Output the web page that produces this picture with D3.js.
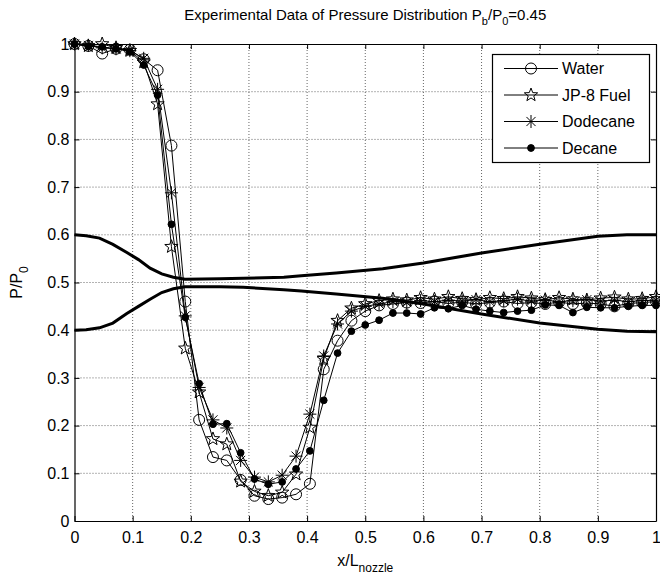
<!DOCTYPE html>
<html lang="en">

<head>
	<meta charset="utf-8">
	<title>Pressure distribution</title>
	<style>
		body {
			margin: 0;
			background: #fff;
		}

		svg {
			display: block;
			font-family: 'Liberation Sans', Arial, sans-serif;
		}

		.grid line {
			stroke: #666;
			stroke-width: 1;
			stroke-dasharray: 1, 2;
		}

		.axis path,
		.axis line {
			stroke: #000;
		}

		.axis text {
			font-size: 16px;
			fill: #000;
		}
	</style>
</head>

<body>
	<svg id="chart" width="660" height="579"></svg>

	<script src="https://d3js.org/d3.v7.min.js"></script>
	<script>
		// x positions of the pressure taps (43 taps along the nozzle)
		var xTaps = [0, 0.0238, 0.0476, 0.0714, 0.0952, 0.119, 0.1429, 0.1667, 0.1905, 0.2143,
			0.2381, 0.2619, 0.2857, 0.3095, 0.3333, 0.3571, 0.381, 0.4048, 0.4286, 0.4524,
			0.4762, 0.5, 0.5238, 0.5476, 0.5714, 0.5952, 0.619, 0.6429, 0.6667, 0.6905,
			0.7143, 0.7381, 0.7619, 0.7857, 0.8095, 0.8333, 0.8571, 0.881, 0.9048, 0.9286,
			0.9524, 0.9762, 1
		];

		var water = [1.000, 0.996, 0.980, 0.990, 0.988, 0.968, 0.945, 0.787, 0.460, 0.212,
			0.134, 0.127, 0.086, 0.053, 0.046, 0.049, 0.056, 0.078, 0.318, 0.378,
			0.420, 0.440, 0.452, 0.455, 0.458, 0.457, 0.460, 0.456, 0.459, 0.455,
			0.458, 0.460, 0.456, 0.458, 0.455, 0.459, 0.455, 0.457, 0.455, 0.450,
			0.456, 0.458, 0.460
		];

		var jp8 = [1.000, 0.996, 1.000, 0.992, 0.986, 0.962, 0.874, 0.575, 0.362, 0.270,
			0.172, 0.161, 0.083, 0.062, 0.053, 0.060, 0.098, 0.196, 0.340, 0.420,
			0.446, 0.455, 0.462, 0.465, 0.463, 0.468, 0.465, 0.470, 0.466, 0.464,
			0.468, 0.466, 0.470, 0.467, 0.464, 0.468, 0.465, 0.463, 0.467, 0.469,
			0.465, 0.466, 0.470
		];

		var dodecane = [1.000, 0.997, 0.992, 0.990, 0.986, 0.970, 0.905, 0.688, 0.430, 0.280,
			0.212, 0.195, 0.127, 0.092, 0.082, 0.096, 0.136, 0.224, 0.346, 0.413,
			0.440, 0.450, 0.455, 0.460, 0.458, 0.462, 0.460, 0.463, 0.461, 0.464,
			0.460, 0.462, 0.465, 0.461, 0.463, 0.460, 0.462, 0.464, 0.461, 0.463,
			0.460, 0.462, 0.463
		];

		var decane = [1.000, 0.995, 0.994, 0.990, 0.984, 0.956, 0.893, 0.622, 0.427, 0.288,
			0.203, 0.204, 0.143, 0.088, 0.077, 0.082, 0.109, 0.147, 0.253, 0.352,
			0.398, 0.411, 0.421, 0.436, 0.436, 0.434, 0.447, 0.445, 0.452, 0.444,
			0.440, 0.437, 0.440, 0.442, 0.453, 0.452, 0.437, 0.448, 0.447, 0.447,
			0.450, 0.452, 0.452
		];

		// thick envelope curves
		var bandX = [0, 0.02, 0.043, 0.066, 0.09, 0.11, 0.13, 0.15, 0.17, 0.19, 0.25, 0.29,
			0.36, 0.39, 0.45, 0.53, 0.6, 0.7, 0.8, 0.9, 0.95, 1.0
		];
		var bandUpper = [0.600, 0.598, 0.593, 0.580, 0.563, 0.548, 0.530, 0.518, 0.511, 0.507, 0.508, 0.509,
			0.511, 0.514, 0.520, 0.529, 0.541, 0.562, 0.580, 0.597, 0.600, 0.600
		];
		var bandLower = [0.400, 0.401, 0.405, 0.415, 0.435, 0.450, 0.465, 0.479, 0.487, 0.491, 0.491, 0.490,
			0.485, 0.482, 0.476, 0.467, 0.455, 0.434, 0.415, 0.402, 0.398, 0.397
		];

		var seriesNames = ["Water", "JP-8 Fuel", "Dodecane", "Decane"];
		var seriesValues = [water, jp8, dodecane, decane];
		var seriesMarkers = ["circle", "star", "asterisk", "dot"];

		var tickValues = [0, 0.1, 0.2, 0.3, 0.4, 0.5, 0.6, 0.7, 0.8, 0.9, 1];

		var svg = d3.select("#chart");
		var plotLeft = 74.5,
			plotRight = 656,
			plotTop = 44,
			plotBottom = 521;

		var x = d3.scaleLinear().domain([0, 1]).range([plotLeft, plotRight]);
		var y = d3.scaleLinear().domain([0, 1]).range([plotBottom, plotTop]);

		var fmt = function(d) {
			return d == 0 || d == 1 ? String(d) : d.toFixed(1);
		}

		// grid (dotted, MATLAB style)
		var grid = svg.append("g").attr("class", "grid");
		grid.selectAll(".gx").data(tickValues.slice(1, -1))
			.enter().append("line")
			.attr("x1", function(d) { return x(d); })
			.attr("x2", function(d) { return x(d); })
			.attr("y1", plotTop)
			.attr("y2", plotBottom);
		grid.selectAll(".gy").data(tickValues.slice(1, -1))
			.enter().append("line")
			.attr("x1", plotLeft)
			.attr("x2", plotRight)
			.attr("y1", function(d) { return y(d); })
			.attr("y2", function(d) { return y(d); });

		// axes, ticks pointing inward on all four sides
		svg.append("g").attr("class", "axis")
			.attr("transform", "translate(0," + plotBottom + ")")
			.call(d3.axisBottom(x).tickValues(tickValues).tickFormat(fmt).tickSizeInner(-5).tickSizeOuter(0).tickPadding(11));
		svg.append("g").attr("class", "axis")
			.attr("transform", "translate(" + plotLeft + ",0)")
			.call(d3.axisLeft(y).tickValues(tickValues).tickFormat(fmt).tickSizeInner(-5).tickSizeOuter(0).tickPadding(5));
		svg.append("g").attr("class", "axis")
			.attr("transform", "translate(0," + plotTop + ")")
			.call(d3.axisTop(x).tickValues(tickValues).tickFormat("").tickSizeInner(-5).tickSizeOuter(0));
		svg.append("g").attr("class", "axis")
			.attr("transform", "translate(" + plotRight + ",0)")
			.call(d3.axisRight(y).tickValues(tickValues).tickFormat("").tickSizeInner(-5).tickSizeOuter(0));

		svg.selectAll(".axis .domain").attr("stroke-width", 1.2);

		// envelope curves
		var bandLine = d3.line()
			.x(function(d, i) { return x(bandX[i]); })
			.y(function(d) { return y(d); });
		[bandUpper, bandLower].forEach(function(b) {
			svg.append("path")
				.attr("d", bandLine(b))
				.attr("fill", "none")
				.attr("stroke", "#000")
				.attr("stroke-width", 3);
		});

		// marker shapes
		function starPath(r) {
			var pts = [];
			for (var k = 0; k < 10; k++) {
				var rr = k % 2 == 0 ? r : r * 0.42;
				var a = -Math.PI / 2 + k * Math.PI / 5;
				pts.push([rr * Math.cos(a), rr * Math.sin(a)]);
			}
			return "M" + pts.join("L") + "Z";
		}

		function drawMarker(g, type) {
			if (type == "circle") {
				g.append("circle").attr("r", 5.5).attr("fill", "none").attr("stroke", "#000").attr("stroke-width", 1);
			}
			if (type == "star") {
				g.append("path").attr("d", starPath(7)).attr("fill", "none").attr("stroke", "#000").attr("stroke-width", 1);
			}
			if (type == "asterisk") {
				var r = 6.5;
				var d = "M" + (-r) + ",0L" + r + ",0M0," + (-r) + "L0," + r +
					"M" + (-r * 0.7) + "," + (-r * 0.7) + "L" + (r * 0.7) + "," + (r * 0.7) +
					"M" + (-r * 0.7) + "," + (r * 0.7) + "L" + (r * 0.7) + "," + (-r * 0.7);
				g.append("path").attr("d", d).attr("fill", "none").attr("stroke", "#000").attr("stroke-width", 1);
			}
			if (type == "dot") {
				g.append("circle").attr("r", 3.4).attr("fill", "#000").attr("stroke", "#000");
			}
		}

		var seriesLine = d3.line()
			.x(function(d, i) { return x(xTaps[i]); })
			.y(function(d) { return y(d); });

		seriesValues.forEach(function(vals, s) {
			var g = svg.append("g").attr("class", "series");
			g.append("path")
				.attr("d", seriesLine(vals))
				.attr("fill", "none")
				.attr("stroke", "#000")
				.attr("stroke-width", 1);
			g.selectAll(".m").data(vals)
				.enter().append("g")
				.attr("transform", function(d, i) {
					return "translate(" + x(xTaps[i]) + "," + y(d) + ")";
				})
				.each(function() {
					drawMarker(d3.select(this), seriesMarkers[s]);
				});
		});

		// legend
		var legend = svg.append("g").attr("class", "legend");
		var lgTop = 54,
			lgRow = 26.5;
		legend.append("rect")
			.attr("x", 492.5)
			.attr("y", lgTop + 0.5)
			.attr("width", 157)
			.attr("height", lgRow * 4 + 2)
			.attr("fill", "#fff")
			.attr("stroke", "#000")
			.attr("stroke-width", 1.2);
		seriesNames.forEach(function(name, s) {
			var cy = lgTop + 14.5 + s * lgRow;
			var row = legend.append("g");
			row.append("line")
				.attr("x1", 504).attr("x2", 558)
				.attr("y1", cy).attr("y2", cy)
				.attr("stroke", "#000");
			var m = row.append("g").attr("transform", "translate(531," + cy + ")");
			drawMarker(m, seriesMarkers[s]);
			row.append("text")
				.attr("x", 562)
				.attr("y", cy)
				.attr("dy", "0.36em")
				.attr("font-size", 16)
				.text(name);
		});

		// title
		var title = svg.append("text")
			.attr("x", (plotLeft + plotRight) / 2)
			.attr("y", 20)
			.attr("text-anchor", "middle")
			.attr("font-size", 15);
		title.append("tspan").text("Experimental Data of Pressure Distribution P");
		title.append("tspan").attr("dy", 5).attr("font-size", 11).text("b");
		title.append("tspan").attr("dy", -5).text("/P");
		title.append("tspan").attr("dy", 5).attr("font-size", 11).text("0");
		title.append("tspan").attr("dy", -5).text("=0.45");

		// axis labels
		var xl = svg.append("text")
			.attr("x", (plotLeft + plotRight) / 2)
			.attr("y", 566)
			.attr("text-anchor", "middle")
			.attr("font-size", 16);
		xl.append("tspan").text("x/L");
		xl.append("tspan").attr("dy", 6).attr("font-size", 12).text("nozzle");

		var yl = svg.append("text")
			.attr("transform", "translate(22," + y(0.5) + ") rotate(-90)")
			.attr("text-anchor", "middle")
			.attr("font-size", 16);
		yl.append("tspan").text("P/P");
		yl.append("tspan").attr("dy", 6).attr("font-size", 12).text("0");
	</script>
</body>

</html>
